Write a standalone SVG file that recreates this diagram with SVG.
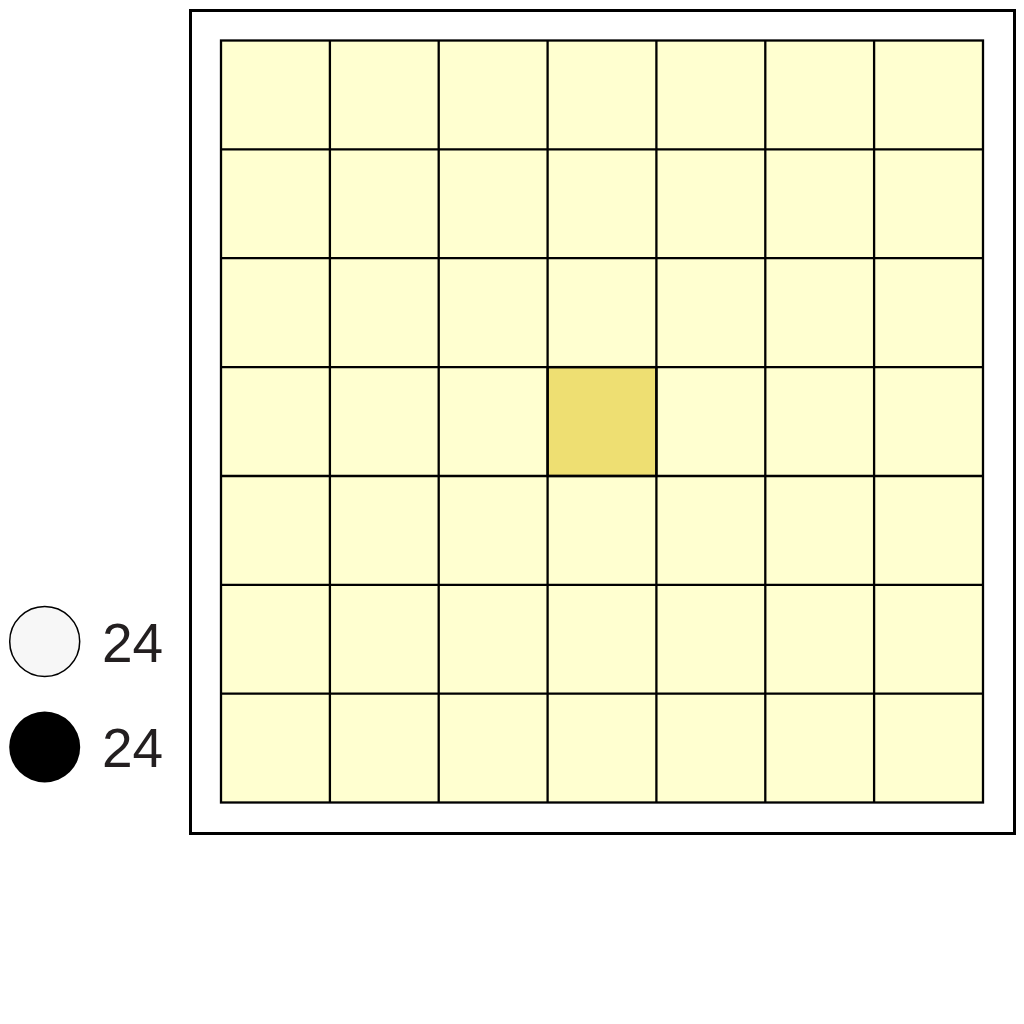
<svg xmlns="http://www.w3.org/2000/svg" width="1024" height="1024" viewBox="0 0 1024 1024">
<style>
.frame{fill:none;stroke:#000;stroke-width:3}
.cell{fill:#ffffd0;stroke:#000;stroke-width:2.3}
.hl{fill:#eedf72;stroke:#000;stroke-width:2.3}
.lbl{font-family:"Liberation Sans",Arial,sans-serif;font-size:55px;fill:#231f20}
</style>
<rect width="1024" height="1024" fill="#fff"/>
<g id="board">
<rect class="frame" x="190.5" y="10.5" width="824" height="823"/>
<rect class="cell" x="221" y="40.5" width="762" height="762"/>
<rect class="hl" x="547.6" y="367.1" width="108.8" height="108.9"/>
<g stroke="#000" stroke-width="2.3">
<line x1="329.9" y1="40.5" x2="329.9" y2="802.5"/>
<line x1="438.7" y1="40.5" x2="438.7" y2="802.5"/>
<line x1="547.6" y1="40.5" x2="547.6" y2="802.5"/>
<line x1="656.4" y1="40.5" x2="656.4" y2="802.5"/>
<line x1="765.3" y1="40.5" x2="765.3" y2="802.5"/>
<line x1="874.1" y1="40.5" x2="874.1" y2="802.5"/>
<line x1="221" y1="149.4" x2="983" y2="149.4"/>
<line x1="221" y1="258.2" x2="983" y2="258.2"/>
<line x1="221" y1="367.1" x2="983" y2="367.1"/>
<line x1="221" y1="476" x2="983" y2="476"/>
<line x1="221" y1="584.8" x2="983" y2="584.8"/>
<line x1="221" y1="693.7" x2="983" y2="693.7"/>
</g>
</g>
<g id="legend-white">
<circle cx="44.7" cy="641.5" r="35" fill="#f7f7f7" stroke="#000" stroke-width="1.5"/>
<text class="lbl" x="102" y="661.8">24</text>
</g>
<g id="legend-black">
<circle cx="44.7" cy="747" r="35.5" fill="#000"/>
<text class="lbl" x="102" y="766.8">24</text>
</g>
</svg>
